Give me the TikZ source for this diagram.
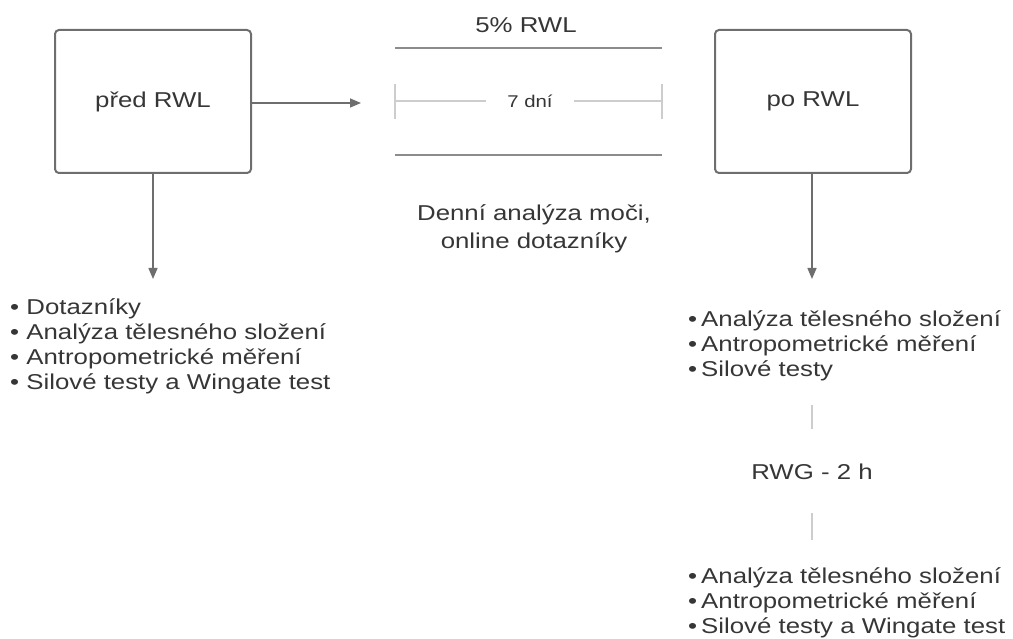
\documentclass[tikz,border=0pt]{standalone}
\usepackage{fontspec}
\setmainfont[FakeStretch=1.2]{Liberation Sans}
\usetikzlibrary{arrows.meta,positioning}

\definecolor{boxgray}{HTML}{6E6E6E}
\definecolor{textgray}{HTML}{363636}
\definecolor{bandgray}{HTML}{8C8C8C}
\definecolor{dimgray}{HTML}{CDCDCD}

\tikzset{
  phase/.style={draw=boxgray,line width=2pt,rounded corners=4pt,text=textgray,
    minimum width=196pt,minimum height=143pt,inner sep=0pt,
    font=\fontsize{21.5}{25}\selectfont},
  txt/.style={text=textgray,inner sep=0pt,font=\fontsize{21.5}{25}\selectfont},
  list/.style={txt,align=left,anchor=west},
  flow/.style={draw=boxgray,line width=1.5pt,-{Triangle[length=11pt,width=9pt]}},
  band/.style={draw=bandgray,line width=2.5pt},
  dim/.style={draw=dimgray,line width=1.5pt},
}
\newcommand{\bod}{\textbullet\hspace{4pt}}

\begin{document}
\begin{tikzpicture}[x=1pt,y=-1pt]
    \useasboundingbox (0,0) rectangle (1013,639);

    % Měření před a po redukci hmotnosti
    \node[phase] (pred) at (153,101.5) {před RWL};
    \node[phase] (po) at (813,101.5) {po RWL};

    % Období redukce (7 dní)
    \node[txt] (rwl) at (526,25) {5\% RWL};
    \draw[band] (395,48) -- (662,48);
    \draw[band] (395,155) -- (662,155);
    \coordinate (dimL) at (395,101);
    \coordinate (dimR) at (662,101);
    \node[txt,font=\fontsize{17}{19}\selectfont,inner xsep=21pt] (dni) at (530,101) {7 dní};
    \draw[dim] (dimL) -- (dni.west);
    \draw[dim] (dni.east) -- (dimR);
    \draw[dim] ([yshift=-18pt]dimL) -- ([yshift=17pt]dimL);
    \draw[dim] ([yshift=-18pt]dimR) -- ([yshift=17pt]dimR);

    \node[txt,align=center,font=\fontsize{21.5}{28}\selectfont] (denni) at (534,229)
        {Denní analýza moči,\\online dotazníky};

    % Šipky
    \coordinate (obdobi) at (361,103);
    \draw[flow] (pred.east |- obdobi) -- (obdobi);

    \node[list] (predlist) at (10,346) {\textbullet\ Dotazníky\\
        \textbullet\ Analýza tělesného složení\\
        \textbullet\ Antropometrické měření\\
        \textbullet\ Silové testy a Wingate test};
    \coordinate (predin) at (pred |- 0,279);
    \draw[flow] (pred.south) -- (predin);

    \node[list] (polist) at (688,346) {\bod Analýza tělesného složení\\
        \bod Antropometrické měření\\
        \bod Silové testy};
    \coordinate (poin) at ([xshift=-1pt]po |- 0,279);
    \draw[flow] (poin |- po.south) -- (poin);

    % RWG a měření po 2 h
    \node[txt] (rwg) at (812,472) {RWG - 2 h};
    \draw[dim] ([yshift=-24pt]polist.south -| rwg.north) -- ([yshift=35pt]rwg.north);
    \node[list] (rwglist) at (688,603) {\bod Analýza tělesného složení\\
        \bod Antropometrické měření\\
        \bod Silové testy a Wingate test};
    \draw[dim] ([yshift=-33pt]rwg.south) -- ([yshift=28pt]rwglist.north -| rwg.south);
\end{tikzpicture}
\end{document}
